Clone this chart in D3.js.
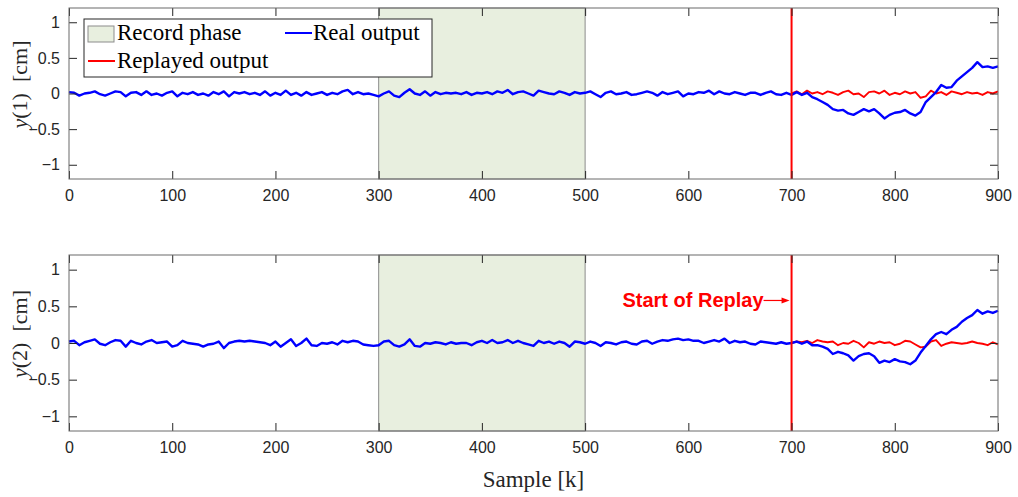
<!DOCTYPE html>
<html>
<head>
<meta charset="utf-8">
<script src="https://cdn.jsdelivr.net/npm/d3@7"></script>
<style>
  body { margin: 0; background: #fff; }
  svg { display: block; }
</style>
</head>
<body>
<div id="chart"></div>
<script>
const width = 1018;
const height = 497;

// samples are read every 5 steps of k
const step = 5;
const xTicks = [0, 100, 200, 300, 400, 500, 600, 700, 800, 900];
const yTicks = [-1, -0.5, 0, 0.5, 1];
const recordPhase = [300, 500];
const replayStart = 700;

// real output y(1), k = 0..900
const realY1 = [
  0.02, 0.01, -0.03, 0.00, 0.01, 0.03, -0.01, -0.03, 0.00, 0.03,
  0.02, -0.04, 0.01, 0.02, -0.02, 0.03, -0.02, 0.00, -0.03, 0.01,
  0.03, -0.04, 0.01, -0.01, 0.02, -0.02, 0.00, -0.03, 0.02, -0.01,
  0.03, -0.04, 0.02, 0.00, 0.02, -0.01, 0.01, -0.02, 0.03, -0.03,
  0.01, -0.02, 0.04, -0.02, 0.01, -0.03, 0.02, -0.02, 0.00, 0.02,
  -0.02, 0.01, -0.01, 0.03, 0.05, -0.01, 0.02, -0.01, 0.00, -0.02,
  -0.04, 0.00, 0.03, -0.03, -0.05, 0.01, 0.06, 0.00, -0.02, 0.03,
  -0.03, 0.02, -0.01, 0.01, 0.00, 0.01, -0.01, 0.02, -0.02, 0.01,
  0.00, 0.02, -0.01, 0.03, 0.01, 0.05, -0.01, 0.02, 0.03, 0.00,
  -0.03, 0.04, 0.02, 0.00, -0.01, 0.03, 0.01, -0.02, 0.02, 0.00,
  0.01, 0.03, -0.01, -0.05, 0.01, 0.03, -0.01, 0.00, 0.02, -0.02,
  -0.01, 0.01, 0.03, 0.01, -0.03, 0.02, -0.01, 0.01, 0.03, -0.04,
  0.00, -0.01, 0.02, 0.01, 0.04, -0.01, 0.03, 0.00, -0.01, 0.02,
  0.00, -0.02, 0.01, 0.01, -0.02, 0.01, 0.03, -0.01, -0.02, 0.01,
  -0.02, 0.02, -0.02, 0.01, -0.05, -0.08, -0.12, -0.16, -0.22, -0.24,
  -0.23, -0.28, -0.30, -0.26, -0.22, -0.25, -0.22, -0.28, -0.35, -0.30,
  -0.27, -0.26, -0.23, -0.28, -0.31, -0.26, -0.12, -0.05, 0.02, 0.12,
  0.08, 0.09, 0.18, 0.24, 0.30, 0.36, 0.44, 0.37, 0.38, 0.36,
  0.38
];

// replayed output y(1), k = 700..900
const replayY1 = [
  0.00, 0.03, -0.01, 0.04, 0.00, 0.02, -0.01, 0.03, 0.01, -0.02,
  0.02, 0.04, -0.01, 0.00, -0.05, 0.02, 0.03, 0.00, 0.04, -0.02,
  0.01, -0.01, 0.03, 0.00, 0.02, -0.06, -0.04, 0.04, 0.00, 0.02,
  -0.02, 0.03, 0.01, -0.01, 0.02, 0.00, 0.01, -0.02, 0.02, 0.00,
  0.03
];

// real output y(2), k = 0..900
const realY2 = [
  0.02, 0.03, -0.03, 0.01, 0.03, 0.05, -0.01, -0.03, 0.01, 0.04,
  0.03, -0.05, 0.03, 0.00, -0.02, 0.02, 0.04, 0.00, 0.01, 0.02,
  -0.05, -0.03, 0.03, 0.00, -0.01, -0.02, -0.05, -0.02, -0.01, 0.02,
  -0.07, 0.00, 0.02, 0.03, 0.02, 0.03, 0.02, 0.01, 0.00, -0.03,
  0.02, -0.05, 0.00, 0.05, -0.04, 0.00, 0.06, -0.03, -0.04, 0.00,
  -0.01, 0.01, -0.02, 0.03, 0.01, 0.03, 0.02, -0.02, -0.03, -0.04,
  -0.03, 0.02, 0.03, -0.03, -0.05, -0.02, 0.05, -0.04, -0.05, 0.00,
  -0.01, 0.01, 0.00, -0.02, 0.01, -0.01, 0.00, 0.00, -0.03, 0.01,
  0.03, 0.00, 0.04, 0.00, 0.01, 0.04, 0.00, 0.03, 0.00, -0.02,
  -0.04, 0.03, 0.00, 0.02, -0.01, 0.02, 0.00, -0.05, 0.02, 0.01,
  -0.01, 0.02, 0.00, -0.04, 0.01, 0.00, -0.02, 0.01, 0.02, -0.01,
  -0.02, 0.02, 0.03, -0.01, 0.02, 0.04, 0.03, 0.05, 0.06, 0.04,
  0.05, 0.03, 0.03, 0.00, 0.02, 0.04, 0.02, 0.06, 0.00, 0.03,
  0.01, 0.02, -0.01, -0.02, 0.02, 0.01, 0.00, -0.01, 0.01, -0.01,
  0.00, 0.02, -0.01, 0.02, -0.03, -0.03, -0.05, -0.08, -0.15, -0.12,
  -0.14, -0.17, -0.24, -0.18, -0.15, -0.14, -0.18, -0.27, -0.24, -0.26,
  -0.22, -0.25, -0.26, -0.29, -0.24, -0.13, -0.04, 0.05, 0.12, 0.15,
  0.12, 0.18, 0.22, 0.29, 0.34, 0.38, 0.45, 0.40, 0.43, 0.41,
  0.44
];

// replayed output y(2), k = 700..900
const replayY2 = [
  0.00, 0.02, 0.01, 0.03, 0.00, 0.04, 0.02, 0.01, 0.02, -0.03,
  0.00, -0.01, 0.03, 0.00, -0.06, 0.01, -0.01, 0.02, 0.00, 0.01,
  -0.03, -0.01, 0.03, 0.02, -0.02, -0.06, -0.05, 0.02, 0.04, -0.04,
  -0.01, 0.01, 0.00, -0.01, 0.00, 0.02, 0.00, -0.01, -0.03, 0.01,
  -0.02
];

const svg = d3.select("#chart").append("svg")
  .attr("width", width).attr("height", height);

const axisColor = "#262626";
const tickFont = "'Liberation Sans', Arial, sans-serif";
const serifFont = "'Liberation Serif', 'Times New Roman', serif";

const x = d3.scaleLinear().domain([0, 900]).range([69, 998]);

function drawPanel(top, bottom, real, replay, idx, withLegend, withNote) {
  const y = d3.scaleLinear().domain([-1.2, 1.2]).range([bottom, top]);
  const g = svg.append("g");

  // record phase band
  g.append("rect")
    .attr("x", x(recordPhase[0])).attr("y", top)
    .attr("width", x(recordPhase[1]) - x(recordPhase[0]))
    .attr("height", bottom - top)
    .attr("fill", "#e8efdf")
    .attr("stroke", "#8c8c8c").attr("stroke-width", 1);

  const line = d3.line().x(d => x(d[0])).y(d => y(d[1]));

  const realPts = real.map((v, i) => [i * step, v]);
  const replayPts = replay.map((v, i) => [replayStart + i * step, v]);

  g.append("path").datum(replayPts)
    .attr("d", line).attr("fill", "none")
    .attr("stroke", "#ff0000").attr("stroke-width", 1.9)
    .attr("stroke-linejoin", "round");

  g.append("path").datum(realPts)
    .attr("d", line).attr("fill", "none")
    .attr("stroke", "#0000ff").attr("stroke-width", 2.4)
    .attr("stroke-linejoin", "round");

  // replay start marker
  g.append("line")
    .attr("x1", x(replayStart)).attr("x2", x(replayStart))
    .attr("y1", top).attr("y2", bottom)
    .attr("stroke", "#ff0000").attr("stroke-width", 2);

  // axes, ticks pointing inward on all four sides
  const styleAxis = sel => {
    sel.select(".domain").remove();
    sel.selectAll("line").attr("stroke", axisColor);
    sel.selectAll("text").attr("fill", axisColor)
      .style("font-family", tickFont).style("font-size", "16px");
  };

  g.append("g").attr("transform", `translate(0,${bottom})`)
    .call(d3.axisBottom(x).tickValues(xTicks).tickSize(-8).tickPadding(11))
    .call(styleAxis);
  g.append("g").attr("transform", `translate(0,${top})`)
    .call(d3.axisTop(x).tickValues(xTicks).tickSize(-8).tickFormat(""))
    .call(styleAxis);
  g.append("g").attr("transform", `translate(${x.range()[0]},0)`)
    .call(d3.axisLeft(y).tickValues(yTicks).tickSize(-8).tickPadding(9).tickFormat(d3.format("")))
    .call(styleAxis);
  g.append("g").attr("transform", `translate(${x.range()[1]},0)`)
    .call(d3.axisRight(y).tickValues(yTicks).tickSize(-8).tickFormat(""))
    .call(styleAxis);

  g.append("rect")
    .attr("x", x.range()[0]).attr("y", top)
    .attr("width", x.range()[1] - x.range()[0]).attr("height", bottom - top)
    .attr("fill", "none").attr("stroke", "#6b6b6b").attr("stroke-width", 1);

  // y label
  const yl = g.append("text")
    .attr("transform", `translate(27,${(top + bottom) / 2 - 9}) rotate(-90)`)
    .attr("text-anchor", "middle")
    .style("font-family", serifFont).style("font-size", "22px")
    .attr("fill", axisColor);
  yl.append("tspan").style("font-style", "italic").text("y");
  yl.append("tspan").text(`(${idx})\u2002[cm]`);

  if (withLegend) {
    const lg = g.append("g");
    lg.append("rect").attr("x", 84).attr("y", 19).attr("width", 348).attr("height", 58)
      .attr("fill", "#fff").attr("stroke", axisColor).attr("stroke-width", 1);
    lg.append("rect").attr("x", 88).attr("y", 26).attr("width", 26).attr("height", 16)
      .attr("fill", "#e8efdf").attr("stroke", "#8c8c8c");
    lg.append("line").attr("x1", 285).attr("x2", 312).attr("y1", 33).attr("y2", 33)
      .attr("stroke", "#0000ff").attr("stroke-width", 2);
    lg.append("line").attr("x1", 88).attr("x2", 115).attr("y1", 61).attr("y2", 61)
      .attr("stroke", "#ff0000").attr("stroke-width", 2);
    const lt = [["Record phase", 117, 40], ["Real output", 313, 40], ["Replayed output", 117, 68]];
    lg.selectAll("text.lt").data(lt).enter().append("text")
      .attr("x", d => d[1]).attr("y", d => d[2])
      .style("font-family", serifFont).style("font-size", "23px")
      .attr("fill", "#000").text(d => d[0]);
  }

  if (withNote) {
    const ny = y(0.58);
    g.append("text")
      .attr("x", x(replayStart) - 28).attr("y", ny + 7)
      .attr("text-anchor", "end")
      .style("font-family", tickFont).style("font-size", "20px").style("font-weight", "bold")
      .attr("fill", "#ff0000").text("Start of Replay");
    g.append("line")
      .attr("x1", x(replayStart) - 28).attr("x2", x(replayStart) - 6)
      .attr("y1", ny).attr("y2", ny)
      .attr("stroke", "#ff0000").attr("stroke-width", 1.2);
    g.append("path")
      .attr("d", `M${x(replayStart) - 2},${ny} l-8,-3 l0,6 z`)
      .attr("fill", "#ff0000");
  }
}

drawPanel(8, 179, realY1, replayY1, 1, true, false);
drawPanel(255, 431, realY2, replayY2, 2, false, true);

svg.append("text")
  .attr("x", (x.range()[0] + x.range()[1]) / 2).attr("y", 487)
  .attr("text-anchor", "middle")
  .style("font-family", serifFont).style("font-size", "23px")
  .attr("fill", axisColor).text("Sample [k]");
</script>
</body>
</html>
